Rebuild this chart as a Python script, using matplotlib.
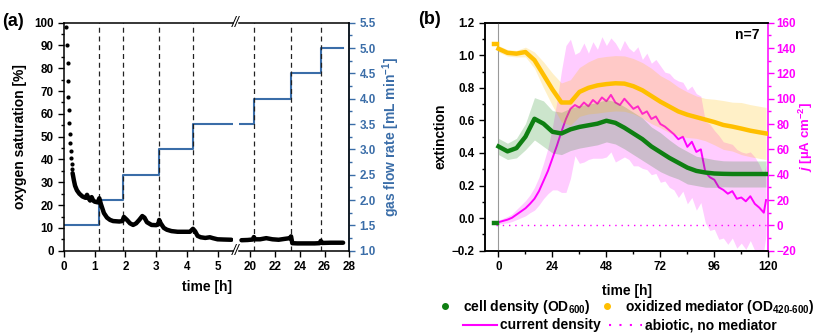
import matplotlib
matplotlib.use('Agg')
import matplotlib.pyplot as plt
from matplotlib.lines import Line2D
from matplotlib.ticker import MultipleLocator

plt.rcParams['font.family'] = ['Liberation Sans', 'DejaVu Sans']
plt.rcParams['font.weight'] = 'bold'
plt.rcParams['axes.labelweight'] = 'bold'
plt.rcParams['mathtext.fontset'] = 'custom'
plt.rcParams['mathtext.rm'] = 'Liberation Sans:bold'
plt.rcParams['mathtext.it'] = 'Liberation Sans:bold:italic'
plt.rcParams['mathtext.bf'] = 'Liberation Sans:bold'

# ---- panel (a): oxygen saturation and gas flow ----
t_early = [0.065, 0.095, 0.115, 0.13, 0.145, 0.16, 0.175, 0.19, 0.205, 0.22, 0.235, 0.25, 0.265]
o2_early = [98.3, 90.2, 82.2, 74.4, 67.5, 61.7, 56.1, 51.0, 47.4, 43.9, 40.5, 38.0, 36.0]

t_o2 = [0.28, 0.32, 0.36, 0.42, 0.5, 0.6, 0.7, 0.75, 0.8, 0.85, 0.9, 0.95, 1.0, 1.1,
        1.15, 1.2, 1.3, 1.4, 1.5, 1.6, 1.8, 1.9, 1.95, 2.05, 2.15, 2.25, 2.35, 2.45,
        2.55, 2.62, 2.7, 2.85, 3.0, 3.07, 3.1, 3.15, 3.25, 3.35, 3.5, 3.7, 3.9, 4.1,
        4.2, 4.27, 4.35, 4.45, 4.6, 4.75, 4.85, 5.0, 5.2, 5.45]
o2 = [34.0, 31.0, 28.5, 26.5, 25.0, 23.8, 23.2, 24.5, 23.0, 22.0, 23.5, 22.0, 21.5, 21.2,
      23.0, 20.5, 16.5, 14.5, 13.5, 13.0, 12.8, 13.0, 14.8, 13.5, 12.0, 11.3, 12.0, 13.5,
      15.2, 14.5, 12.5, 11.3, 11.2, 11.5, 13.5, 12.0, 10.0, 9.2, 8.6, 8.3, 8.3, 8.3,
      9.6, 8.5, 6.5, 5.9, 5.6, 5.9, 5.5, 5.0, 4.9, 4.8]

t_o2_late = [19.3, 19.8, 20.2, 20.3, 20.4, 20.8, 21.3, 21.8, 22.3, 22.8, 23.2, 23.3,
             23.4, 23.8, 24.5, 25.2, 25.6, 25.7, 25.8, 26.5, 27.5]
o2_late = [4.6, 4.7, 4.9, 6.0, 5.0, 5.0, 5.5, 5.0, 4.8, 5.2, 5.5, 6.3,
           3.3, 3.2, 3.2, 3.2, 3.3, 4.3, 3.4, 3.5, 3.5]

flow_t = [0, 1.15, 1.93, 3.1, 4.2, 20.3, 23.3, 25.7, 27.5]
flow = [1.5, 2.0, 2.5, 3.0, 3.5, 4.0, 4.5, 5.0, 5.0]
switch_t = [1.15, 1.93, 3.1, 4.2, 20.3, 23.3, 25.7]

# ---- panel (b): extinction and current density ----
t_od = [0, 4, 8, 12, 16, 20, 24, 28, 32, 36, 40, 44, 48, 52, 56, 60, 64, 68, 72, 76,
        80, 84, 88, 92, 96, 100, 104, 108, 112, 116, 119]
cell = [0.44, 0.41, 0.43, 0.50, 0.61, 0.58, 0.53, 0.52, 0.545, 0.56, 0.57, 0.58, 0.598,
        0.585, 0.555, 0.52, 0.485, 0.44, 0.405, 0.37, 0.34, 0.31, 0.29, 0.28, 0.274,
        0.272, 0.271, 0.271, 0.271, 0.271, 0.271]
cell_sd = [0.05, 0.05, 0.06, 0.08, 0.13, 0.14, 0.13, 0.13, 0.13, 0.13, 0.13, 0.13, 0.13,
           0.13, 0.13, 0.13, 0.13, 0.12, 0.12, 0.11, 0.10, 0.10, 0.09, 0.09, 0.085,
           0.08, 0.08, 0.08, 0.08, 0.08, 0.08]
mediator = [1.04, 1.015, 1.01, 1.02, 0.97, 0.88, 0.79, 0.71, 0.71, 0.775, 0.80, 0.815,
            0.823, 0.828, 0.826, 0.81, 0.785, 0.75, 0.715, 0.685, 0.655, 0.635, 0.62,
            0.605, 0.59, 0.572, 0.562, 0.55, 0.537, 0.527, 0.52]
mediator_sd = [0.02, 0.02, 0.02, 0.03, 0.05, 0.08, 0.10, 0.12, 0.14, 0.15, 0.16, 0.17,
               0.17, 0.17, 0.17, 0.17, 0.17, 0.17, 0.16, 0.16, 0.15, 0.14, 0.13, 0.13,
               0.14, 0.15, 0.15, 0.16, 0.16, 0.16, 0.16]

t_pre = [-2.0, -1.5, -1.0, -0.5]
cell_pre = [-0.027, -0.027, -0.027, -0.027]
mediator_pre = [1.07, 1.07, 1.07, 1.07]

t_j = [0, 2, 4, 6, 8, 10, 12, 14, 16, 18, 20, 22, 24, 26, 28, 30, 32, 34, 36, 38, 40,
       42, 44, 46, 48, 50, 52, 54, 56, 58, 60, 62, 64, 66, 68, 70, 72, 74, 76, 78, 80,
       82, 84, 86, 88, 90, 92, 94, 96, 98, 100, 102, 104, 106, 108, 110, 112, 114, 116,
       118, 119]
j = [2.5, 3.5, 4.5, 6.0, 8.5, 11, 13.5, 17, 21, 27, 35, 43, 53, 63, 74, 84, 92, 95, 93,
     97, 94, 99, 96, 101, 98, 103, 97, 95, 100, 96, 92, 94, 88, 90, 84, 86, 80, 78, 75,
     72, 68, 70, 62, 66, 58, 60, 42, 38, 36, 30, 28, 25, 27, 21, 22, 19, 23, 17, 14, 10, 20]
j_sd = [1.5, 2, 2.5, 3, 4, 5, 6, 7, 9, 11, 14, 18, 25, 35, 48, 58, 55, 40, 44, 47, 42,
        46, 43, 48, 44, 45, 47, 43, 46, 44, 45, 47, 43, 46, 44, 45, 46, 43, 45, 44, 46,
        43, 45, 44, 46, 42, 40, 42, 39, 41, 38, 40, 37, 39, 36, 38, 35, 37, 34, 30, 28]

abiotic_t = [-1, 119]
abiotic_j = [0, 0]

BLUE = '#3A6DA8'
GREEN = '#0E7F12'
YELLOW = '#FFBF00'
MAGENTA = '#FF00FF'

W, H = 816, 333


def px_rect(left, top, right, bottom):
    return [left / W, 1 - bottom / H, (right - left) / W, (bottom - top) / H]


fig = plt.figure(figsize=(W / 100, H / 100), dpi=100)

ax1 = fig.add_axes(px_rect(64, 22.7, 232.9, 250.7))
ax2 = fig.add_axes(px_rect(239, 22.7, 349.3, 250.7))
ax1b = ax1.twinx()
ax2b = ax2.twinx()

for ax, axb in ((ax1, ax1b), (ax2, ax2b)):
    axb.plot(flow_t, flow, drawstyle='steps-post', color=BLUE, lw=1.5)
    axb.set_ylim(1.0, 5.5)
    ax.set_zorder(axb.get_zorder() + 1)
    ax.patch.set_visible(False)
    for t in switch_t:
        ax.axvline(t, color='#222222', lw=0.9, ls=(0, (4, 3)))
    ax.plot(t_o2, o2, color='black', lw=3.2, solid_capstyle='round')
    ax.plot(t_o2_late, o2_late, color='black', lw=3.2, solid_capstyle='round')
    ax.set_ylim(0, 100)
    ax.tick_params(direction='out', length=4, width=1, labelsize=8.4)
    ax.tick_params(which='minor', direction='out', length=2, width=1)
    for s in ax.spines.values():
        s.set_linewidth(1.1)
    for s in axb.spines.values():
        s.set_visible(False)

ax1.plot(t_early, o2_early, 'o', color='black', ms=3, mec='none')
ax1.set_xlim(0, 5.5)
ax2.set_xlim(19.1, 28)
ax1.set_xticks(range(0, 6))
ax2.set_xticks([20, 22, 24, 26, 28])
ax1.yaxis.set_major_locator(MultipleLocator(10))
ax1.yaxis.set_minor_locator(MultipleLocator(5))
ax1.spines['right'].set_visible(False)
ax2.spines['left'].set_visible(False)
ax2.tick_params(axis='y', which='both', left=False, labelleft=False)
ax1b.tick_params(axis='y', which='both', right=False, labelright=False)

ax2b.spines['right'].set_visible(True)
ax2b.spines['right'].set_color(BLUE)
ax2b.spines['right'].set_linewidth(1.1)
ax2b.yaxis.set_major_locator(MultipleLocator(0.5))
ax2b.yaxis.set_minor_locator(MultipleLocator(0.25))
ax2b.tick_params(axis='y', colors=BLUE, direction='out', length=4, width=1, labelsize=8.4)
ax2b.tick_params(axis='y', which='minor', colors=BLUE, direction='out', length=2, width=1)
ax2b.set_ylabel('gas flow rate [mL min$^{-1}$]', color=BLUE, fontsize=10, labelpad=3)
ax1.set_ylabel('oxygen saturation [%]', fontsize=10, labelpad=5)

fig.text(206.5 / W, 1 - 287 / H, 'time [h]', ha='center', va='center', fontsize=10, weight='bold')
for yb in (22.7, 250.7):
    fig.text(236 / W, 1 - yb / H, '//', ha='center', va='center', fontsize=10,
             weight='normal', style='italic')
fig.text(2 / W, 1 - 22 / H, '(a)', ha='left', va='center', fontsize=13, weight='bold')

# ---- panel (b) ----
axe = fig.add_axes(px_rect(485, 22.7, 768.3, 250.7))
axj = axe.twinx()
axe.set_zorder(axj.get_zorder() + 1)
axe.patch.set_visible(False)

j_lo = [m - s for m, s in zip(j, j_sd)]
j_hi = [m + s for m, s in zip(j, j_sd)]
axj.fill_between(t_j, j_lo, j_hi, color=MAGENTA, alpha=0.2, lw=0)
axj.plot(t_j, j, color=MAGENTA, lw=1.4)
axj.plot(abiotic_t, abiotic_j, color=MAGENTA, lw=1.0, ls=(0, (1, 3.5)))
axj.set_ylim(-20, 160)

cell_lo = [m - s for m, s in zip(cell, cell_sd)]
cell_hi = [m + s for m, s in zip(cell, cell_sd)]
med_lo = [m - s for m, s in zip(mediator, mediator_sd)]
med_hi = [m + s for m, s in zip(mediator, mediator_sd)]
axe.axvline(0, color='#999999', lw=0.8)
axe.fill_between(t_od, cell_lo, cell_hi, color='#008000', alpha=0.2, lw=0)
axe.fill_between(t_od, med_lo, med_hi, color=YELLOW, alpha=0.22, lw=0)
axe.plot(t_od, mediator, color=YELLOW, lw=3.2)
axe.plot(t_od, cell, color=GREEN, lw=3.2)
axe.plot(t_pre, mediator_pre, color=YELLOW, lw=3.2)
axe.plot(t_pre, cell_pre, color=GREEN, lw=3.2)

axe.set_xlim(-6, 120)
axe.set_ylim(-0.2, 1.2)
axe.xaxis.set_major_locator(MultipleLocator(24))
axe.xaxis.set_minor_locator(MultipleLocator(12))
axe.yaxis.set_major_locator(MultipleLocator(0.2))
axe.yaxis.set_minor_locator(MultipleLocator(0.1))
axe.tick_params(direction='out', length=4, width=1, labelsize=8.4)
axe.tick_params(which='minor', direction='out', length=2, width=1)
for s in axe.spines.values():
    s.set_linewidth(1.1)
axe.spines['right'].set_visible(False)
for s in axj.spines.values():
    s.set_linewidth(1.1)
axj.spines['right'].set_color(MAGENTA)
axj.yaxis.set_major_locator(MultipleLocator(20))
axj.yaxis.set_minor_locator(MultipleLocator(10))
axj.tick_params(axis='y', colors=MAGENTA, direction='out', length=4, width=1, labelsize=8.4,
                pad=2)
axj.tick_params(axis='y', which='minor', colors=MAGENTA, direction='out', length=2, width=1)
axe.set_ylabel('extinction', fontsize=10, labelpad=3)
axe.set_xlabel('time [h]', fontsize=10, labelpad=8)
axj.set_ylabel(r'$j$ [µA cm$^{-2}$]', color=MAGENTA, fontsize=9.5, labelpad=0)
axe.text(0.97, 0.975, 'n=7', transform=axe.transAxes, ha='right', va='top', fontsize=10, weight='bold')
fig.text(418 / W, 1 - 20 / H, '(b)', ha='left', va='center', fontsize=13, weight='bold')

dots = [Line2D([], [], ls='none', marker='o', ms=4, color=GREEN),
        Line2D([], [], ls='none', marker='o', ms=4, color=YELLOW)]
lines = [Line2D([], [], color=MAGENTA, lw=1.5),
         Line2D([], [], color=MAGENTA, lw=1.5, ls=(0, (1, 4)))]
fig.legend(dots, ['cell density (OD$_{600}$)', r'oxidized mediator (OD$_{\text{420-600}}$)'],
           ncol=2, loc='center', bbox_to_anchor=(626 / W, 1 - 306.7 / H), frameon=False,
           prop={'size': 10, 'weight': 'bold'}, handlelength=1.0, handletextpad=0.8,
           columnspacing=0.7, borderpad=0, borderaxespad=0)
fig.legend(lines, ['current density', 'abiotic, no mediator'],
           ncol=2, loc='center', bbox_to_anchor=(620 / W, 1 - 325.5 / H), frameon=False,
           prop={'size': 10, 'weight': 'bold'}, handlelength=2.4, handletextpad=0.2,
           columnspacing=0.6, borderpad=0, borderaxespad=0)

fig.savefig('out.png', dpi=100)
